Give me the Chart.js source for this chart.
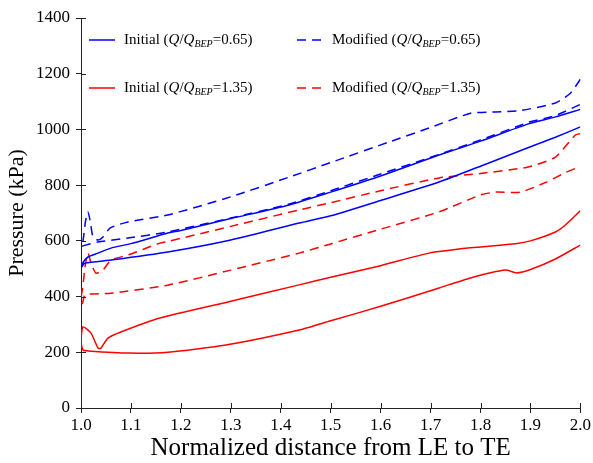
<!DOCTYPE html>
<html>
<head>
<meta charset="utf-8">
<script src="https://cdn.jsdelivr.net/npm/chart.js@4.4.1/dist/chart.umd.min.js"></script>
<style>
html, body { margin: 0; padding: 0; background: #fff; }
#wrap { width: 593px; height: 463px; }
</style>
</head>
<body>
<div id="wrap"><canvas id="pressureChart" width="593" height="463"></canvas></div>
<script>
// Données (x = distance normalisée, y = pression en kPa)
const xTicks = [1.0, 1.1, 1.2, 1.3, 1.4, 1.5, 1.6, 1.7, 1.8, 1.9, 2.0];
const yTicks = [0, 200, 400, 600, 800, 1000, 1200, 1400];

const seriesNames = ['Initial', 'Modified', 'Initial', 'Modified'];
const flowRatios = ['0.65', '0.65', '1.35', '1.35'];

// Initial Q/QBEP=0.65
const init065UpperX = [1.0, 1.005, 1.014, 1.034, 1.06, 1.1, 1.174, 1.2, 1.3, 1.417, 1.5, 1.6, 1.717, 1.8, 1.896, 1.95, 2.0];
const init065UpperY = [503, 525, 542, 556, 574, 590, 628, 637, 680, 729, 775, 833, 908, 958, 1020, 1045, 1072];
const init065LowerX = [1.0, 1.008, 1.06, 1.174, 1.3, 1.437, 1.5, 1.6, 1.717, 1.8, 1.9, 1.95, 2.0];
const init065LowerY = [503, 520, 531, 560, 603, 664, 690, 745, 811, 868, 938, 972, 1009];

// Modified Q/QBEP=0.65
const mod065UpperX = [1.0, 1.004, 1.009, 1.014, 1.019, 1.024, 1.034, 1.044, 1.058, 1.094, 1.174, 1.3, 1.417, 1.5, 1.617, 1.697, 1.78, 1.83, 1.88, 1.95, 1.98, 2.0];
const mod065UpperY = [580, 600, 670, 704, 665, 614, 603, 614, 646, 668, 693, 758, 829, 881, 955, 1005, 1058, 1063, 1068, 1095, 1130, 1180];
const mod065LowerX = [1.0, 1.004, 1.034, 1.094, 1.174, 1.3, 1.417, 1.5, 1.6, 1.697, 1.8, 1.896, 1.95, 2.0];
const mod065LowerY = [580, 582, 596, 610, 632, 682, 732, 780, 840, 898, 962, 1025, 1050, 1090];

// Initial Q/QBEP=1.35
const init135UpperX = [1.0, 1.004, 1.02, 1.034, 1.04, 1.054, 1.08, 1.158, 1.3, 1.437, 1.5, 1.6, 1.697, 1.78, 1.87, 1.9, 1.95, 1.97, 2.0];
const init135UpperY = [240, 291, 269, 215, 215, 251, 273, 323, 383, 442, 469, 511, 556, 575, 590, 600, 632, 657, 708];
const init135LowerX = [1.0, 1.004, 1.014, 1.094, 1.174, 1.29, 1.437, 1.5, 1.6, 1.717, 1.78, 1.85, 1.872, 1.9, 1.95, 2.0];
const init135LowerY = [240, 208, 205, 197, 200, 226, 280, 313, 365, 431, 467, 495, 485, 497, 535, 585];

// Modified Q/QBEP=1.35
const mod135UpperX = [1.0, 1.004, 1.008, 1.014, 1.02, 1.03, 1.044, 1.06, 1.094, 1.158, 1.174, 1.3, 1.437, 1.5, 1.6, 1.717, 1.8, 1.896, 1.95, 1.99, 2.0];
const mod135UpperY = [390, 440, 506, 556, 520, 484, 495, 531, 549, 592, 598, 652, 711, 737, 780, 826, 842, 865, 901, 980, 985];
const mod135LowerX = [1.0, 1.003, 1.008, 1.06, 1.174, 1.3, 1.437, 1.5, 1.6, 1.717, 1.8, 1.83, 1.88, 1.932, 1.97, 1.99, 2.0];
const mod135LowerY = [390, 375, 406, 412, 441, 495, 556, 589, 642, 704, 765, 775, 775, 811, 845, 860, 862];

const BLUE = '#0000ff';
const RED = '#ff0000';
const DASH = [9, 6];
const FONT = "'Liberation Serif', 'Times New Roman', serif";

// Une boucle : extrados du BF vers le BA, puis intrados du BA vers le BF
function loopPoints(upX, upY, loX, loY) {
    const pts = [];
    for (let i = upX.length - 1; i >= 0; i--) pts.push({ x: upX[i], y: upY[i] });
    for (let i = 1; i < loX.length; i++) pts.push({ x: loX[i], y: loY[i] });
    return pts;
}

function makeDataset(label, pts, color, dash) {
    return {
        label: label,
        data: pts,
        borderColor: color,
        borderWidth: 1.5,
        borderDash: dash,
        pointRadius: 0,
        tension: 0.2,
        fill: false
    };
}

// Petites graduations vers l'intérieur
const innerTicks = {
    id: 'innerTicks',
    afterDraw(chart) {
        const ctx = chart.ctx;
        const a = chart.chartArea;
        const xs = chart.scales.x, ys = chart.scales.y;
        ctx.save();
        ctx.strokeStyle = '#222';
        ctx.lineWidth = 1;
        ctx.beginPath();
        xTicks.forEach(v => {
            const p = Math.round(xs.getPixelForValue(v)) + 0.5;
            ctx.moveTo(p, a.bottom);
            ctx.lineTo(p, a.bottom - 5);
        });
        yTicks.forEach(v => {
            const p = Math.round(ys.getPixelForValue(v)) + 0.5;
            ctx.moveTo(a.left, p);
            ctx.lineTo(a.left + 5, p);
        });
        ctx.stroke();
        ctx.restore();
    }
};

// Légende avec Q en italique et BEP en indice
const richLegend = {
    id: 'richLegend',
    afterDraw(chart) {
        const ctx = chart.ctx;
        const a = chart.chartArea;
        const colors = [BLUE, BLUE, RED, RED];
        const dashes = [[], DASH, [], DASH];
        const cols = [a.left + 8, a.left + 216];
        const rows = [a.top + 22, a.top + 70];
        ctx.save();
        seriesNames.forEach((name, i) => {
            const x0 = cols[i % 2];
            const y0 = rows[Math.floor(i / 2)];
            ctx.strokeStyle = colors[i];
            ctx.lineWidth = 1.5;
            ctx.setLineDash(dashes[i]);
            ctx.beginPath();
            ctx.moveTo(x0, y0);
            ctx.lineTo(x0 + 26, y0);
            ctx.stroke();
            ctx.setLineDash([]);

            const parts = [
                { t: name + ' (', f: '15px ' + FONT, dy: 0 },
                { t: 'Q', f: 'italic 15px ' + FONT, dy: 0 },
                { t: '/', f: '15px ' + FONT, dy: 0 },
                { t: 'Q', f: 'italic 15px ' + FONT, dy: 0 },
                { t: 'BEP', f: 'italic 10px ' + FONT, dy: 4 },
                { t: '=' + flowRatios[i] + ')', f: '15px ' + FONT, dy: 0 }
            ];
            let x = x0 + 35;
            ctx.fillStyle = '#000';
            ctx.textBaseline = 'middle';
            parts.forEach(p => {
                ctx.font = p.f;
                ctx.fillText(p.t, x, y0 + p.dy);
                x += ctx.measureText(p.t).width;
            });
        });
        ctx.restore();
    }
};

function renderChart() {
    const ctx = document.getElementById('pressureChart').getContext('2d');
    Chart.defaults.font.family = FONT;
    Chart.defaults.color = '#000';

    new Chart(ctx, {
        type: 'line',
        data: {
            datasets: [
                makeDataset('Initial 0.65', loopPoints(init065UpperX, init065UpperY, init065LowerX, init065LowerY), BLUE, []),
                makeDataset('Modified 0.65', loopPoints(mod065UpperX, mod065UpperY, mod065LowerX, mod065LowerY), BLUE, DASH),
                makeDataset('Initial 1.35', loopPoints(init135UpperX, init135UpperY, init135LowerX, init135LowerY), RED, []),
                makeDataset('Modified 1.35', loopPoints(mod135UpperX, mod135UpperY, mod135LowerX, mod135LowerY), RED, DASH)
            ]
        },
        options: {
            responsive: false,
            animation: false,
            layout: { padding: { top: 18, right: 10, left: 0, bottom: 0 } },
            plugins: {
                legend: { display: false },
                tooltip: { enabled: false }
            },
            scales: {
                x: {
                    type: 'linear',
                    min: 1.0,
                    max: 2.0,
                    afterBuildTicks: s => { s.ticks = xTicks.map(v => ({ value: v })); },
                    afterFit: s => { s.height = 55; },
                    ticks: {
                        font: { size: 17 },
                        padding: 2,
                        maxRotation: 0,
                        callback: v => v.toFixed(1)
                    },
                    grid: { drawOnChartArea: false, tickLength: 5, color: '#222' },
                    border: { color: '#222', width: 1 },
                    title: {
                        display: true,
                        text: 'Normalized distance from LE to TE',
                        font: { size: 25 },
                        padding: { top: 0, bottom: 0 }
                    }
                },
                y: {
                    min: 0,
                    max: 1400,
                    afterBuildTicks: s => { s.ticks = yTicks.map(v => ({ value: v })); },
                    afterFit: s => { s.width = 81; },
                    ticks: {
                        font: { size: 17 },
                        padding: 6,
                        callback: v => String(v)
                    },
                    grid: { drawOnChartArea: false, tickLength: 5, color: '#222' },
                    border: { color: '#222', width: 1 },
                    title: {
                        display: true,
                        text: 'Pressure (kPa)',
                        font: { size: 22 },
                        padding: { top: 4, bottom: 0 }
                    }
                }
            }
        },
        plugins: [innerTicks, richLegend]
    });
}

document.addEventListener('DOMContentLoaded', renderChart);
</script>
</body>
</html>
